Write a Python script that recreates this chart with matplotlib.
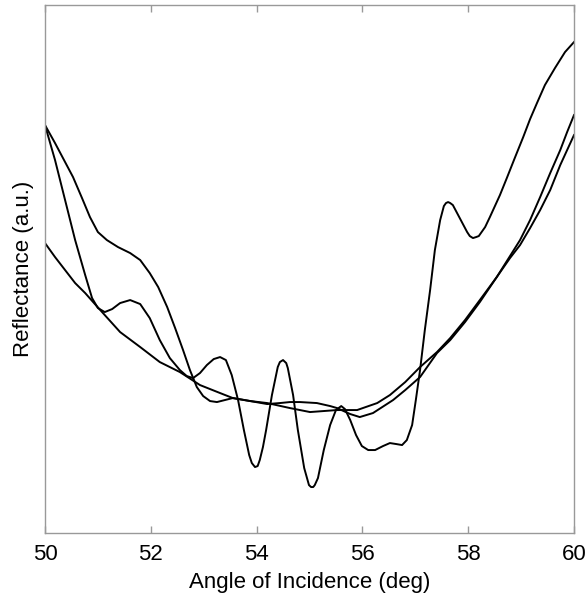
import matplotlib
matplotlib.use('Agg')
from matplotlib import pyplot as plt

plt.rcParams['font.family'] = ['Liberation Sans', 'DejaVu Sans']

# angle of incidence (deg) and reflectance (a.u.) for the three traces
osc_angle = [50.00, 50.19, 50.38, 50.57, 50.76, 50.89, 51.00, 51.13, 51.27, 51.42,
             51.61, 51.80, 51.98, 52.17, 52.36, 52.55, 52.68, 52.80, 52.93, 53.06,
             53.19, 53.31, 53.42, 53.53, 53.65, 53.76, 53.86, 53.91, 53.97, 54.02,
             54.06, 54.12, 54.18, 54.29, 54.40, 54.44, 54.50, 54.56, 54.59, 54.69,
             54.78, 54.90, 54.99, 55.03, 55.07, 55.10, 55.16, 55.27, 55.39, 55.50,
             55.60, 55.67, 55.77, 55.88, 55.99, 56.11, 56.24, 56.39, 56.52, 56.64,
             56.75, 56.84, 56.94, 57.01, 57.09, 57.18, 57.28, 57.37, 57.47, 57.54,
             57.58, 57.62, 57.66, 57.71, 57.84, 57.98, 58.03, 58.09, 58.15, 58.20,
             58.32, 58.41, 58.60, 58.73, 58.88, 59.04, 59.17, 59.30, 59.45, 59.64,
             59.83, 60.00]
osc_refl = [408, 373, 333, 293, 258, 235, 225, 221, 224, 230,
            233, 229, 215, 193, 175, 163, 157, 155, 160, 168,
            174, 176, 173, 158, 133, 103, 78, 70, 66, 67,
            73, 86, 103, 138, 166, 171, 173, 170, 165, 138,
            103, 65, 48, 46, 46, 48, 55, 83, 108, 123,
            127, 124, 113, 98, 87, 83, 83, 87, 90, 89,
            88, 93, 108, 133, 163, 203, 243, 283, 313, 327,
            330, 331, 330, 328, 315, 301, 297, 295, 296, 297,
            306, 316, 338, 355, 375, 396, 414, 430, 448, 465,
            481, 491]

shoulder_angle = [50.00, 50.19, 50.38, 50.53, 50.70, 50.85, 51.00, 51.17, 51.38, 51.61,
                  51.80, 51.98, 52.14, 52.31, 52.46, 52.61, 52.74, 52.87, 52.99, 53.12,
                  53.25, 53.40, 53.55, 53.88, 54.20, 54.44, 54.63, 54.82, 55.14, 55.39,
                  55.52, 55.77, 55.95, 56.20, 56.58, 56.81, 57.09, 57.41, 57.66, 57.94,
                  58.22, 58.54, 58.79, 58.98, 59.17, 59.36, 59.55, 59.74, 59.87, 60.00]
shoulder_refl = [408, 390, 371, 356, 335, 316, 301, 293, 286, 280,
                 273, 260, 246, 226, 205, 183, 163, 146, 137, 132,
                 131, 133, 135, 132, 129, 130, 131, 131, 130, 127,
                 125, 119, 116, 120, 133, 143, 156, 180, 193, 211,
                 231, 256, 277, 293, 313, 336, 360, 383, 401, 418]

smooth_angle = [50.00, 50.19, 50.38, 50.57, 50.76, 50.91, 51.13, 51.42, 51.80, 52.17,
                52.55, 52.93, 53.31, 53.55, 53.88, 54.20, 54.63, 55.01, 55.52, 55.90,
                56.28, 56.52, 56.81, 57.09, 57.41, 57.66, 57.94, 58.22, 58.54, 58.79,
                58.98, 59.17, 59.36, 59.55, 59.74, 59.87, 60.00]
smooth_refl = [290, 276, 263, 250, 240, 231, 218, 201, 186, 171,
               161, 148, 140, 135, 132, 130, 125, 121, 123, 123,
               130, 138, 151, 166, 181, 195, 213, 233, 256, 275,
               288, 305, 323, 343, 368, 383, 398]

xticks = [50, 52, 54, 56, 58, 60]

fig = plt.figure(figsize=(5.88, 6.03), dpi=100)
ax = fig.add_axes([0.0765, 0.116, 0.8997, 0.8756])

for a, r in [(smooth_angle, smooth_refl), (shoulder_angle, shoulder_refl), (osc_angle, osc_refl)]:
    ax.plot(a, r, color='black', lw=1.4, solid_joinstyle='round')

ax.set_xlim(50, 60)
ax.set_ylim(0, 528)
ax.set_xticks(xticks)
ax.set_yticks([])
ax.tick_params(axis='x', direction='in', length=5, width=1, color='#999999',
               top=True, labelsize=16, pad=8)
for s in ax.spines.values():
    s.set_color('#999999')
    s.set_linewidth(1)

ax.set_xlabel('Angle of Incidence (deg)', fontsize=16, labelpad=5)
ax.set_ylabel('Reflectance (a.u.)', fontsize=16, labelpad=8)

fig.savefig('out.png', dpi=100)
